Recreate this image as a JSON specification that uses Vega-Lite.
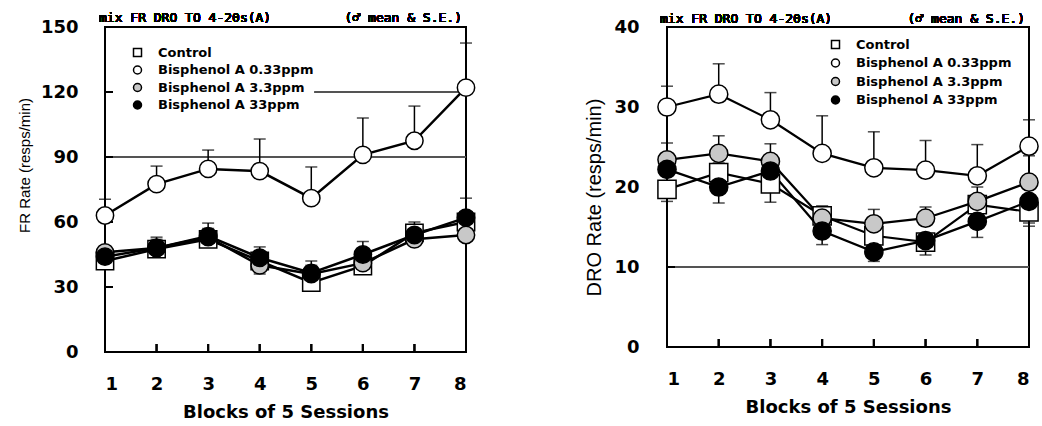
{
  "$schema": "https://vega.github.io/schema/vega-lite/v6.json",
  "background": "white",
  "padding": {"left": 16, "top": 11, "right": 5, "bottom": 5},
  "spacing": 104,
  "config": {
    "view": {"stroke": "black", "strokeWidth": 2},
    "axis": {
      "grid": false, "domain": false, "ticks": false, "tickSize": 0,
      "labelFont": "DejaVu Sans", "labelFontWeight": "bold", "labelFontSize": 18, "labelColor": "black",
      "titleColor": "black"
    },
    "axisX": {"labelPadding": 23.5, "titleFont": "DejaVu Sans", "titleFontWeight": "bold", "titleFontSize": 18, "titlePadding": 10}
  },
  "resolve": {
    "scale": {"x": "independent", "y": "independent", "fill": "independent", "shape": "independent", "stroke": "independent"},
    "legend": {"fill": "independent", "shape": "independent", "stroke": "independent"}
  },
  "hconcat": [
    {
      "width": 361, "height": 325,
      "data": {"values": [
        {"block": 1, "group": "Control", "rate": 42, "bar": 46},
        {"block": 2, "group": "Control", "rate": 47.5, "bar": 51},
        {"block": 3, "group": "Control", "rate": 52, "bar": 56},
        {"block": 4, "group": "Control", "rate": 42, "bar": 46},
        {"block": 5, "group": "Control", "rate": 32, "bar": 35},
        {"block": 6, "group": "Control", "rate": 39.7, "bar": 43},
        {"block": 7, "group": "Control", "rate": 55, "bar": 60},
        {"block": 8, "group": "Control", "rate": 60, "bar": 64},
        {"block": 1, "group": "Bisphenol A 0.33ppm", "rate": 63, "bar": 70.5},
        {"block": 2, "group": "Bisphenol A 0.33ppm", "rate": 77.5, "bar": 85.8},
        {"block": 3, "group": "Bisphenol A 0.33ppm", "rate": 84.5, "bar": 93.2},
        {"block": 4, "group": "Bisphenol A 0.33ppm", "rate": 83.5, "bar": 98.3},
        {"block": 5, "group": "Bisphenol A 0.33ppm", "rate": 71, "bar": 85.4},
        {"block": 6, "group": "Bisphenol A 0.33ppm", "rate": 91, "bar": 108},
        {"block": 7, "group": "Bisphenol A 0.33ppm", "rate": 97.5, "bar": 113.5},
        {"block": 8, "group": "Bisphenol A 0.33ppm", "rate": 122, "bar": 142.6},
        {"block": 1, "group": "Bisphenol A 3.3ppm", "rate": 46, "bar": 49},
        {"block": 2, "group": "Bisphenol A 3.3ppm", "rate": 48, "bar": 52},
        {"block": 3, "group": "Bisphenol A 3.3ppm", "rate": 53, "bar": 57},
        {"block": 4, "group": "Bisphenol A 3.3ppm", "rate": 40, "bar": 36},
        {"block": 5, "group": "Bisphenol A 3.3ppm", "rate": 36, "bar": 40},
        {"block": 6, "group": "Bisphenol A 3.3ppm", "rate": 41, "bar": 45},
        {"block": 7, "group": "Bisphenol A 3.3ppm", "rate": 52, "bar": 55},
        {"block": 8, "group": "Bisphenol A 3.3ppm", "rate": 54, "bar": 58},
        {"block": 1, "group": "Bisphenol A 33ppm", "rate": 44, "bar": 48},
        {"block": 2, "group": "Bisphenol A 33ppm", "rate": 48, "bar": 53},
        {"block": 3, "group": "Bisphenol A 33ppm", "rate": 53.5, "bar": 59.5},
        {"block": 4, "group": "Bisphenol A 33ppm", "rate": 43.5, "bar": 48.5},
        {"block": 5, "group": "Bisphenol A 33ppm", "rate": 36.5, "bar": 42},
        {"block": 6, "group": "Bisphenol A 33ppm", "rate": 45, "bar": 51},
        {"block": 7, "group": "Bisphenol A 33ppm", "rate": 54, "bar": 58},
        {"block": 8, "group": "Bisphenol A 33ppm", "rate": 62, "bar": 71}
      ]},
      "encoding": {
        "x": {"field": "block", "type": "quantitative", "scale": {"domain": [1, 8], "nice": false, "zero": false},
              "axis": {"values": [1, 2, 3, 4, 5, 6, 7, 8], "format": "d", "title": "Blocks of 5 Sessions"}},
        "y": {"field": "rate", "type": "quantitative", "scale": {"domain": [0, 150], "nice": false},
              "axis": {"values": [0, 30, 60, 90, 120, 150], "labelPadding": 27, "title": "FR Rate (resps/min)", "titleFont": "Liberation Sans", "titleFontSize": 15, "titleFontWeight": "normal", "titleY": 138, "titlePadding": 8}}
      },
      "layer": [
        {"mark": {"type": "rule", "color": "#555", "strokeWidth": 1}, "encoding": {"x": {"datum": 1}, "x2": {"datum": 8}, "y": {"datum": 90}}},
        {"mark": {"type": "rule", "color": "#555", "strokeWidth": 1}, "encoding": {"x": {"datum": 5.07}, "x2": {"datum": 8}, "y": {"datum": 120}}},
        {"mark": {"type": "tick", "orient": "horizontal", "size": 8, "thickness": 2, "color": "black", "xOffset": 4}, "encoding": {"x": {"datum": 1}, "y": {"datum": 30}}},
        {"mark": {"type": "tick", "orient": "horizontal", "size": 8, "thickness": 2, "color": "black", "xOffset": 4}, "encoding": {"x": {"datum": 1}, "y": {"datum": 60}}},
        {"mark": {"type": "tick", "orient": "horizontal", "size": 8, "thickness": 2, "color": "black", "xOffset": 4}, "encoding": {"x": {"datum": 1}, "y": {"datum": 90}}},
        {"mark": {"type": "tick", "orient": "horizontal", "size": 8, "thickness": 2, "color": "black", "xOffset": 4}, "encoding": {"x": {"datum": 1}, "y": {"datum": 120}}},
        {"mark": {"type": "tick", "orient": "vertical", "size": 8, "thickness": 2, "color": "black", "yOffset": -4}, "encoding": {"y": {"datum": 0}}},
        {"mark": {"type": "rule", "color": "black", "strokeWidth": 1.5}, "encoding": {"y2": {"field": "bar"}}},
        {"mark": {"type": "tick", "orient": "horizontal", "size": 12, "thickness": 1.5, "color": "black"}, "encoding": {"y": {"field": "bar", "type": "quantitative"}}},
        {"mark": {"type": "line", "color": "black", "strokeWidth": 2.5}, "encoding": {"detail": {"field": "group"}}},
        {
          "mark": {"type": "point", "filled": true, "strokeWidth": 1.5, "size": 300, "opacity": 1},
          "encoding": {
            "shape": {"field": "group", "scale": {"domain": ["Control", "Bisphenol A 0.33ppm", "Bisphenol A 3.3ppm", "Bisphenol A 33ppm"], "range": ["square", "circle", "circle", "circle"]},
                      "legend": {"title": null, "orient": "none", "legendX": 26, "legendY": 19, "padding": 0, "rowPadding": 2.5, "symbolSize": 64, "symbolOffset": 0, "labelOffset": 14, "symbolStrokeWidth": 1.5, "labelFont": "DejaVu Sans", "labelFontWeight": "bold", "labelFontSize": 13, "labelColor": "black"}},
            "fill": {"field": "group", "scale": {"domain": ["Control", "Bisphenol A 0.33ppm", "Bisphenol A 3.3ppm", "Bisphenol A 33ppm"], "range": ["white", "white", "#c8c8c8", "black"]},
                     "legend": {"title": null, "orient": "none", "legendX": 26, "legendY": 19, "padding": 0, "rowPadding": 2.5, "symbolSize": 64, "symbolOffset": 0, "labelOffset": 14, "symbolStrokeWidth": 1.5, "labelFont": "DejaVu Sans", "labelFontWeight": "bold", "labelFontSize": 13, "labelColor": "black"}},
            "stroke": {"field": "group", "scale": {"domain": ["Control", "Bisphenol A 0.33ppm", "Bisphenol A 3.3ppm", "Bisphenol A 33ppm"], "range": ["black", "black", "black", "black"]},
                     "legend": {"title": null, "orient": "none", "legendX": 26, "legendY": 19, "padding": 0, "rowPadding": 2.5, "symbolSize": 64, "symbolOffset": 0, "labelOffset": 14, "symbolStrokeWidth": 1.5, "labelFont": "DejaVu Sans", "labelFontWeight": "bold", "labelFontSize": 13, "labelColor": "black"}}
          }
        },
        {"mark": {"type": "text", "text": "mix FR DRO TO 4-20s(A)", "font": "DejaVu Sans Mono", "fontSize": 13, "align": "left", "dx": -6, "dy": -9, "color": "black"},
         "encoding": {"x": {"datum": 1}, "y": {"datum": 150}}},
        {"mark": {"type": "text", "text": "(♂ mean & S.E.)", "font": "DejaVu Sans Mono", "fontSize": 13, "align": "right", "dx": -4, "dy": -9, "color": "black"},
         "encoding": {"x": {"datum": 8}, "y": {"datum": 150}}}
      ]
    },
    {
      "width": 362, "height": 320,
      "data": {"values": [
        {"block": 1, "group": "Control", "rate": 19.7, "bar": 18.2},
        {"block": 2, "group": "Control", "rate": 21.8, "bar": 23},
        {"block": 3, "group": "Control", "rate": 20.4, "bar": 18.1},
        {"block": 4, "group": "Control", "rate": 16.4, "bar": 17.6},
        {"block": 5, "group": "Control", "rate": 13.9, "bar": 15},
        {"block": 6, "group": "Control", "rate": 13.1, "bar": 11.5},
        {"block": 7, "group": "Control", "rate": 17.8, "bar": 19},
        {"block": 8, "group": "Control", "rate": 16.9, "bar": 15.1},
        {"block": 1, "group": "Bisphenol A 0.33ppm", "rate": 30, "bar": 32.6},
        {"block": 2, "group": "Bisphenol A 0.33ppm", "rate": 31.6, "bar": 35.4},
        {"block": 3, "group": "Bisphenol A 0.33ppm", "rate": 28.4, "bar": 31.8},
        {"block": 4, "group": "Bisphenol A 0.33ppm", "rate": 24.2, "bar": 28.9},
        {"block": 5, "group": "Bisphenol A 0.33ppm", "rate": 22.4, "bar": 26.9},
        {"block": 6, "group": "Bisphenol A 0.33ppm", "rate": 22.1, "bar": 25.8},
        {"block": 7, "group": "Bisphenol A 0.33ppm", "rate": 21.4, "bar": 25.3},
        {"block": 8, "group": "Bisphenol A 0.33ppm", "rate": 25.1, "bar": 28.4},
        {"block": 1, "group": "Bisphenol A 3.3ppm", "rate": 23.4, "bar": 25.5},
        {"block": 2, "group": "Bisphenol A 3.3ppm", "rate": 24.2, "bar": 26.4},
        {"block": 3, "group": "Bisphenol A 3.3ppm", "rate": 23.2, "bar": 25.4},
        {"block": 4, "group": "Bisphenol A 3.3ppm", "rate": 16.1, "bar": 17.6},
        {"block": 5, "group": "Bisphenol A 3.3ppm", "rate": 15.4, "bar": 17.2},
        {"block": 6, "group": "Bisphenol A 3.3ppm", "rate": 16.1, "bar": 17.5},
        {"block": 7, "group": "Bisphenol A 3.3ppm", "rate": 18.2, "bar": 20},
        {"block": 8, "group": "Bisphenol A 3.3ppm", "rate": 20.6, "bar": 23.9},
        {"block": 1, "group": "Bisphenol A 33ppm", "rate": 22.2, "bar": 23.5},
        {"block": 2, "group": "Bisphenol A 33ppm", "rate": 20, "bar": 18},
        {"block": 3, "group": "Bisphenol A 33ppm", "rate": 22, "bar": 23},
        {"block": 4, "group": "Bisphenol A 33ppm", "rate": 14.5, "bar": 12.8},
        {"block": 5, "group": "Bisphenol A 33ppm", "rate": 11.9, "bar": 10.7},
        {"block": 6, "group": "Bisphenol A 33ppm", "rate": 13.3, "bar": 14},
        {"block": 7, "group": "Bisphenol A 33ppm", "rate": 15.7, "bar": 13.7},
        {"block": 8, "group": "Bisphenol A 33ppm", "rate": 18.2, "bar": 15.5}
      ]},
      "encoding": {
        "x": {"field": "block", "type": "quantitative", "scale": {"domain": [1, 8], "nice": false, "zero": false},
              "axis": {"values": [1, 2, 3, 4, 5, 6, 7, 8], "format": "d", "title": "Blocks of 5 Sessions"}},
        "y": {"field": "rate", "type": "quantitative", "scale": {"domain": [0, 40], "nice": false},
              "axis": {"values": [0, 10, 20, 30, 40], "labelPadding": 28, "title": "DRO Rate (resps/min)", "titleFont": "Liberation Sans", "titleFontSize": 20, "titleFontWeight": "normal", "titleY": 170, "titlePadding": 9}}
      },
      "layer": [
        {"mark": {"type": "rule", "color": "#555", "strokeWidth": 1}, "encoding": {"x": {"datum": 1}, "x2": {"datum": 8}, "y": {"datum": 10}}},
        {"mark": {"type": "tick", "orient": "horizontal", "size": 8, "thickness": 2, "color": "black", "xOffset": 4}, "encoding": {"x": {"datum": 1}, "y": {"datum": 10}}},
        {"mark": {"type": "tick", "orient": "horizontal", "size": 8, "thickness": 2, "color": "black", "xOffset": 4}, "encoding": {"x": {"datum": 1}, "y": {"datum": 20}}},
        {"mark": {"type": "tick", "orient": "horizontal", "size": 8, "thickness": 2, "color": "black", "xOffset": 4}, "encoding": {"x": {"datum": 1}, "y": {"datum": 30}}},
        {"mark": {"type": "tick", "orient": "vertical", "size": 8, "thickness": 2, "color": "black", "yOffset": -4}, "encoding": {"y": {"datum": 0}}},
        {"mark": {"type": "rule", "color": "black", "strokeWidth": 1.5}, "encoding": {"y2": {"field": "bar"}}},
        {"mark": {"type": "tick", "orient": "horizontal", "size": 12, "thickness": 1.5, "color": "black"}, "encoding": {"y": {"field": "bar", "type": "quantitative"}}},
        {"mark": {"type": "line", "color": "black", "strokeWidth": 2.2}, "encoding": {"detail": {"field": "group"}}},
        {
          "mark": {"type": "point", "filled": true, "strokeWidth": 1.5, "size": 330, "opacity": 1},
          "encoding": {
            "shape": {"field": "group", "scale": {"domain": ["Control", "Bisphenol A 0.33ppm", "Bisphenol A 3.3ppm", "Bisphenol A 33ppm"], "range": ["square", "circle", "circle", "circle"]},
                      "legend": {"title": null, "orient": "none", "legendX": 162, "legendY": 11, "padding": 0, "rowPadding": 3.5, "symbolSize": 64, "symbolOffset": 0, "labelOffset": 14, "symbolStrokeWidth": 1.5, "labelFont": "DejaVu Sans", "labelFontWeight": "bold", "labelFontSize": 13, "labelColor": "black"}},
            "fill": {"field": "group", "scale": {"domain": ["Control", "Bisphenol A 0.33ppm", "Bisphenol A 3.3ppm", "Bisphenol A 33ppm"], "range": ["white", "white", "#c8c8c8", "black"]},
                     "legend": {"title": null, "orient": "none", "legendX": 162, "legendY": 11, "padding": 0, "rowPadding": 3.5, "symbolSize": 64, "symbolOffset": 0, "labelOffset": 14, "symbolStrokeWidth": 1.5, "labelFont": "DejaVu Sans", "labelFontWeight": "bold", "labelFontSize": 13, "labelColor": "black"}},
            "stroke": {"field": "group", "scale": {"domain": ["Control", "Bisphenol A 0.33ppm", "Bisphenol A 3.3ppm", "Bisphenol A 33ppm"], "range": ["black", "black", "black", "black"]},
                     "legend": {"title": null, "orient": "none", "legendX": 162, "legendY": 11, "padding": 0, "rowPadding": 3.5, "symbolSize": 64, "symbolOffset": 0, "labelOffset": 14, "symbolStrokeWidth": 1.5, "labelFont": "DejaVu Sans", "labelFontWeight": "bold", "labelFontSize": 13, "labelColor": "black"}}
          }
        },
        {"mark": {"type": "text", "text": "mix FR DRO TO 4-20s(A)", "font": "DejaVu Sans Mono", "fontSize": 13, "align": "left", "dx": -7, "dy": -8, "color": "black"},
         "encoding": {"x": {"datum": 1}, "y": {"datum": 40}}},
        {"mark": {"type": "text", "text": "(♂ mean & S.E.)", "font": "DejaVu Sans Mono", "fontSize": 13, "align": "right", "dx": -4, "dy": -8, "color": "black"},
         "encoding": {"x": {"datum": 8}, "y": {"datum": 40}}}
      ]
    }
  ]
}
